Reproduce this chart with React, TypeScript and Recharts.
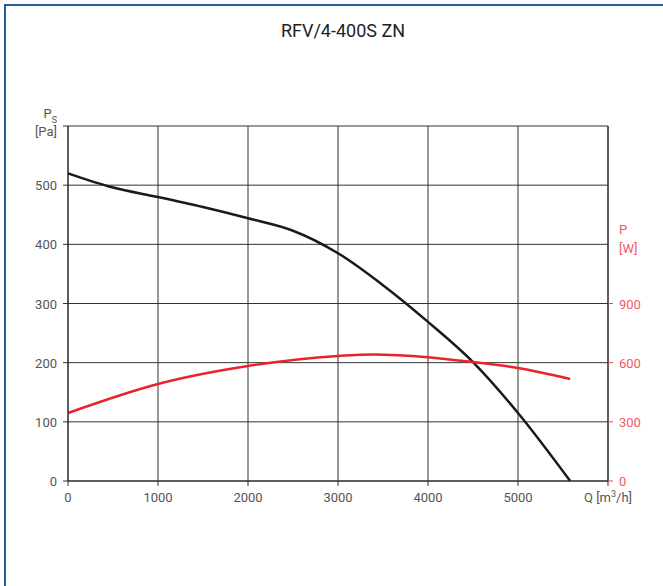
import { LineChart, Line, XAxis, YAxis, CartesianGrid } from "recharts";

const qTicks = [0, 1000, 2000, 3000, 4000, 5000, 6000];
const psTicks = [0, 100, 200, 300, 400, 500, 600];
const pTicks = [0, 300, 600, 900];

// static pressure curve, Q [m3/h] -> Ps [Pa]
const psQ = [0, 500, 1000, 1500, 2000, 2500, 3000, 3500, 4000, 4500, 5000, 5580];
const psVal = [520, 496, 480, 463, 444, 423, 385, 331, 269, 201, 115, 0];

// power curve, Q [m3/h] -> P [W]
const pQ = [0, 1000, 2000, 3000, 3400, 4000, 4500, 5000, 5580];
const pVal = [345, 492, 583, 634, 642, 628, 603, 573, 517];

const psData = psQ.map((q, i) => ({ q, ps: psVal[i] }));
const pData = pQ.map((q, i) => ({ q, p: pVal[i] }));

const FONT = "Roboto, 'DejaVu Sans', sans-serif";
const GREY = "#555";
const RED_TXT = "#f05a64";

function XTick(props: any) {
  const { x, y, payload } = props;
  if (payload.value === 6000) {
    return (
      <text x={x} y={y + 14} textAnchor="middle" fill={GREY} fontSize={13} fontFamily={FONT}>
        Q [m<tspan dy={-5} fontSize={9}>3</tspan>
        <tspan dy={5}>/h]</tspan>
      </text>
    );
  }
  return (
    <text x={x} y={y + 14} textAnchor="middle" fill={GREY} fontSize={13} fontFamily={FONT}>
      {payload.value}
    </text>
  );
}

function LeftTick(props: any) {
  const { x, y, payload } = props;
  if (payload.value === 600) return null;
  return (
    <text x={x} y={y + 5} textAnchor="end" fill={GREY} fontSize={13} fontFamily={FONT}>
      {payload.value}
    </text>
  );
}

function RightTick(props: any) {
  const { x, y, payload } = props;
  return (
    <text x={x} y={y + 5} textAnchor="start" fill={RED_TXT} fontSize={13} fontFamily={FONT}>
      {payload.value}
    </text>
  );
}

export default function App() {
  return (
    <div
      style={{
        position: "absolute",
        left: 0,
        top: 0,
        width: 663,
        height: 586,
        background: "#fff",
        fontFamily: FONT,
      }}
    >
      <div
        style={{
          position: "absolute",
          left: 4,
          top: 4,
          right: 0,
          bottom: 0,
          borderTop: "2px solid #2b5c9c",
          borderLeft: "2px solid #2b5c9c",
        }}
      />
      <div
        style={{
          position: "absolute",
          left: 0,
          top: 20,
          width: 686,
          textAlign: "center",
          fontSize: 18,
          fontWeight: 400,
          color: "#222",
        }}
      >
        RFV/4-400S ZN
      </div>
      <div style={{ position: "absolute", left: 0, top: 0 }}>
        <LineChart
          width={663}
          height={586}
          margin={{ top: 126, right: 10, left: 28, bottom: 75 }}
        >
          <CartesianGrid yAxisId="left" stroke="#333" strokeWidth={1} />
          <XAxis
            dataKey="q"
            type="number"
            domain={[0, 6000]}
            ticks={qTicks}
            allowDuplicatedCategory={false}
            tick={XTick}
            tickSize={5}
            tickLine={{ stroke: "#333" }}
            axisLine={{ stroke: "#222" }}
            height={30}
          />
          <YAxis
            yAxisId="left"
            domain={[0, 600]}
            ticks={psTicks}
            tick={LeftTick}
            tickSize={5}
            tickMargin={6}
            tickLine={{ stroke: "#333" }}
            axisLine={{ stroke: "#222" }}
            width={40}
          />
          <YAxis
            yAxisId="right"
            orientation="right"
            domain={[0, 1800]}
            ticks={pTicks}
            tick={RightTick}
            tickSize={5}
            tickMargin={6}
            tickLine={{ stroke: "#f0404c" }}
            axisLine={{ stroke: "#222" }}
            width={45}
          />
          <Line
            yAxisId="left"
            data={psData}
            dataKey="ps"
            type="monotone"
            stroke="#1a1a1a"
            strokeWidth={2.5}
            dot={false}
            isAnimationActive={false}
          />
          <Line
            yAxisId="right"
            data={pData}
            dataKey="p"
            type="monotone"
            stroke="#e8232b"
            strokeWidth={2.5}
            dot={false}
            isAnimationActive={false}
          />
        </LineChart>
      </div>
      <svg
        width={663}
        height={586}
        style={{ position: "absolute", left: 0, top: 0, pointerEvents: "none" }}
      >
        <text x={57} y={118} textAnchor="end" fill={GREY} fontSize={13} fontFamily={FONT}>
          P<tspan dy={5} fontSize={9}>S</tspan>
        </text>
        <text x={57} y={136} textAnchor="end" fill={GREY} fontSize={13} fontFamily={FONT}>
          [Pa]
        </text>
        <text x={619} y={234} textAnchor="start" fill={RED_TXT} fontSize={13} fontFamily={FONT}>
          P
        </text>
        <text x={619} y={253} textAnchor="start" fill={RED_TXT} fontSize={13} fontFamily={FONT}>
          [W]
        </text>
      </svg>
    </div>
  );
}
